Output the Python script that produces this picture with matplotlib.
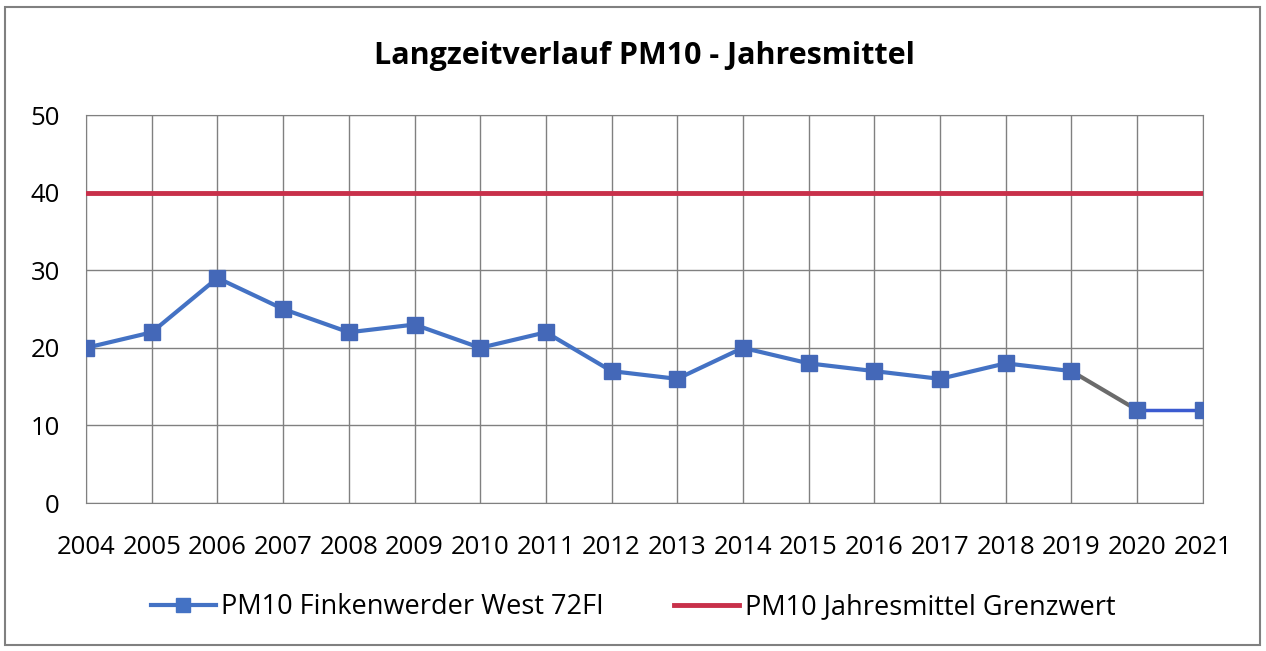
import matplotlib.pyplot as plt
from matplotlib.patches import Rectangle

years = list(range(2004, 2022))
pm10 = [20, 22, 29, 25, 22, 23, 20, 22, 17, 16, 20, 18, 17, 16, 18, 17, 12, 12]
limit = [40] * len(years)

plt.rcParams['font.family'] = ['Open Sans', 'DejaVu Sans']

fig = plt.figure(figsize=(12.66, 6.51), dpi=100)
ax = fig.add_axes([0.068, 0.2273, 0.882, 0.596])

blue = '#4472C4'
ax.plot(years, limit, color='#C8304A', lw=3.5, label='PM10 Jahresmittel Grenzwert', zorder=3)
# main series; 2019-2020 segment drawn grey as in the reference
ax.plot(years[:-2], pm10[:-2], color=blue, lw=3, zorder=4)
ax.plot(years[-3:-1], pm10[-3:-1], color='#6b6b6b', lw=3, zorder=4)
ax.plot(years[-2:], pm10[-2:], color='#3B5BD0', lw=2.5, zorder=4)
ax.plot(years, pm10, ls='none', marker='s', ms=11, color='#4468B8', zorder=5)
h1, = ax.plot([], [], color=blue, lw=3, marker='s', ms=10, label='PM10 Finkenwerder West 72FI')

ax.set_xlim(2004, 2021)
ax.set_ylim(0, 50)
ax.set_xticks(years)
ax.set_yticks(range(0, 51, 10))
ax.grid(True, color='#808080', lw=1)
ax.tick_params(length=0, labelsize=18.5)
ax.tick_params(axis='x', pad=23)
ax.tick_params(axis='y', pad=19)
for s in ax.spines.values():
    s.set_color('#808080')
ax.set_title('Langzeitverlauf PM10 - Jahresmittel', fontsize=22, fontweight='bold', pad=37)

handles, labels = ax.get_legend_handles_labels()
fig.legend([h1, handles[0]], [labels[1], labels[0]], loc='center', bbox_to_anchor=(0.5, 0.0676),
           ncol=2, frameon=False, fontsize=19.5, handlelength=2.4, handletextpad=0.2,
           columnspacing=2.6)

fig.add_artist(Rectangle((0.004, 0.009), 0.991, 0.98, transform=fig.transFigure,
                         fill=False, edgecolor='#808080', lw=1.5))

fig.savefig('out.png', dpi=100)
